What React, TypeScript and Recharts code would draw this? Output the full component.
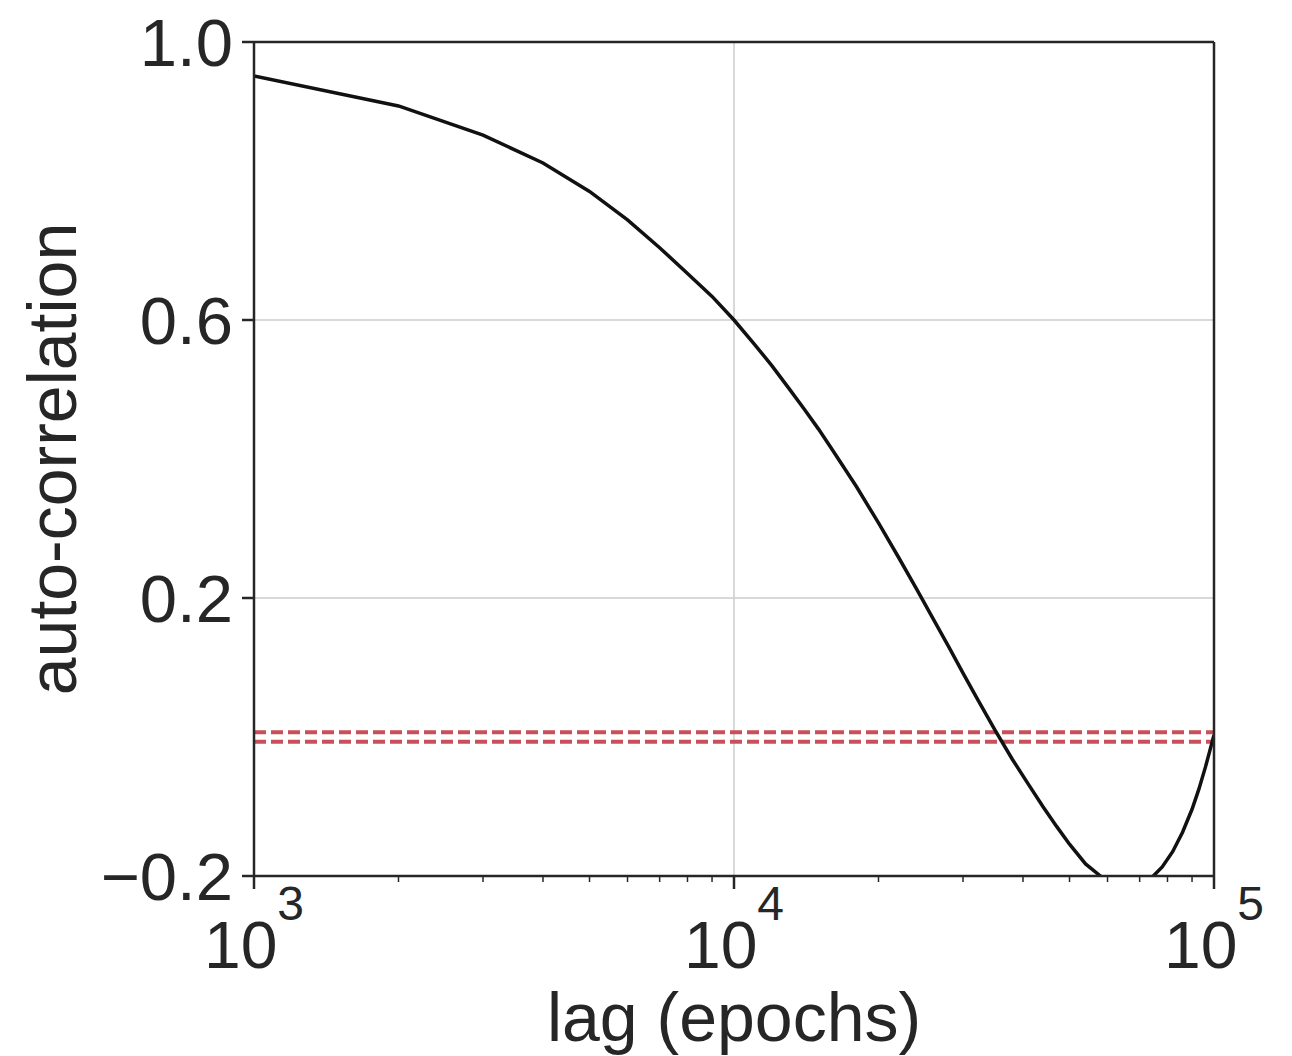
import { LineChart, Line, XAxis, YAxis, ReferenceLine, Label } from 'recharts'

// lag values (epochs) and the auto-correlation
const lags = [
  1000, 2000, 3000, 4000, 5000, 6000, 7000, 8000, 9000, 10000,
  11000, 12000, 13000, 14000, 15000, 16000, 18000, 20000, 22000, 24000,
  26000, 28000, 30000, 32000, 35000, 38000, 41000, 44000, 47000, 50000,
  54000, 58000, 62000, 66000, 70000, 74000, 78000, 82000, 86000, 90000,
  93000, 96000, 98000, 100000,
]
const acf = [
  0.951, 0.908, 0.866, 0.826, 0.785, 0.744, 0.704, 0.667, 0.634, 0.6,
  0.566, 0.534, 0.502, 0.472, 0.443, 0.414, 0.36, 0.308, 0.259, 0.213,
  0.17, 0.13, 0.092, 0.057, 0.0096, -0.032, -0.0674, -0.1, -0.1286, -0.1542,
  -0.1826, -0.2, -0.2095, -0.214, -0.212, -0.203, -0.187, -0.165, -0.137, -0.104,
  -0.075, -0.043, -0.02, 0.003,
]
// significance band (dashed red lines)
const bandLevels = [0.007, -0.007]

const xMajor = [1000, 10000, 100000]
const xMinor = [2000, 3000, 4000, 5000, 6000, 7000, 8000, 9000, 20000, 30000, 40000, 50000, 60000, 70000, 80000, 90000]
const yTicks = [-0.2, 0.2, 0.6, 1.0]
const yGrid = [0.2, 0.6]

const FONT = '"Liberation Sans", Arial, Helvetica, sans-serif'
const INK = '#262626'
const GRID = '#cccccc'

const data = lags.map((lag, i) => ({ lag, acf: acf[i] }))

function XTick(props: any) {
  const { x, y, payload } = props
  const v = payload.value
  const major = xMajor.includes(v)
  if (!major) {
    return <line x1={x} x2={x} y1={y} y2={y + 6} stroke={INK} strokeWidth={1.5} />
  }
  const exp = Math.round(Math.log10(v))
  return (
    <g>
      <line x1={x} x2={x} y1={y} y2={y + 13} stroke={INK} strokeWidth={2.5} />
      <text x={x} y={y + 92} textAnchor="middle" fontFamily={FONT} fill={INK}>
        <tspan fontSize={66}>10</tspan>
        <tspan fontSize={48} dy={-48}>{exp}</tspan>
      </text>
    </g>
  )
}

function YTick(props: any) {
  const { x, y, payload } = props
  const label = payload.value.toFixed(1).replace('-', '\u2212')
  return (
    <g>
      <line x1={x - 12} x2={x} y1={y} y2={y} stroke={INK} strokeWidth={2.5} />
      <text x={x - 21} y={y} dy="0.36em" textAnchor="end" fontSize={67} fontFamily={FONT} fill={INK}>
        {label}
      </text>
    </g>
  )
}

export default function App() {
  return (
    <div style={{ position: 'absolute', left: 0, top: 0 }}>
      <LineChart width={1292} height={1056} data={data} margin={{ top: 42, right: 78, left: 0, bottom: 0 }}>
        {yGrid.map(v => (
          <ReferenceLine key={`gy-${v}`} y={v} stroke={GRID} strokeWidth={1.5} />
        ))}
        <ReferenceLine x={10000} stroke={GRID} strokeWidth={1.5} />
        {bandLevels.map(v => (
          <ReferenceLine key={`band-${v}`} y={v} stroke="#c8505a" strokeWidth={4} strokeDasharray="12 5" />
        ))}
        <XAxis
          dataKey="lag"
          type="number"
          scale="log"
          domain={[1000, 100000]}
          allowDataOverflow
          ticks={[...xMajor, ...xMinor].sort((a, b) => a - b)}
          interval={0}
          tickSize={0}
          tickMargin={0}
          tick={<XTick />}
          tickLine={false}
          axisLine={{ stroke: INK, strokeWidth: 2.5 }}
          height={180}
        >
          <Label
            value="lag (epochs)"
            content={(p: any) => (
              <text x={p.viewBox.x + p.viewBox.width / 2} y={1041} textAnchor="middle" fontSize={68} fontFamily={FONT} fill={INK}>
                lag (epochs)
              </text>
            )}
          />
        </XAxis>
        <YAxis
          type="number"
          domain={[-0.2, 1.0]}
          allowDataOverflow
          ticks={yTicks}
          interval={0}
          tickSize={0}
          tickMargin={0}
          tick={<YTick />}
          tickLine={false}
          axisLine={{ stroke: INK, strokeWidth: 2.5 }}
          width={254}
        >
          <Label
            value="auto-correlation"
            content={(p: any) => {
              const cy = p.viewBox.y + p.viewBox.height / 2
              return (
                <text x={76} y={cy} transform={`rotate(-90, 76, ${cy})`} textAnchor="middle" fontSize={68} fontFamily={FONT} fill={INK}>
                  auto-correlation
                </text>
              )
            }}
          />
        </YAxis>
        <Line
          type="linear"
          dataKey="acf"
          stroke="#111111"
          strokeWidth={3.5}
          dot={false}
          activeDot={false}
          isAnimationActive={false}
        />
        <ReferenceLine y={1.0} stroke={INK} strokeWidth={2.5} />
        <ReferenceLine x={100000} stroke={INK} strokeWidth={2.5} />
      </LineChart>
    </div>
  )
}
